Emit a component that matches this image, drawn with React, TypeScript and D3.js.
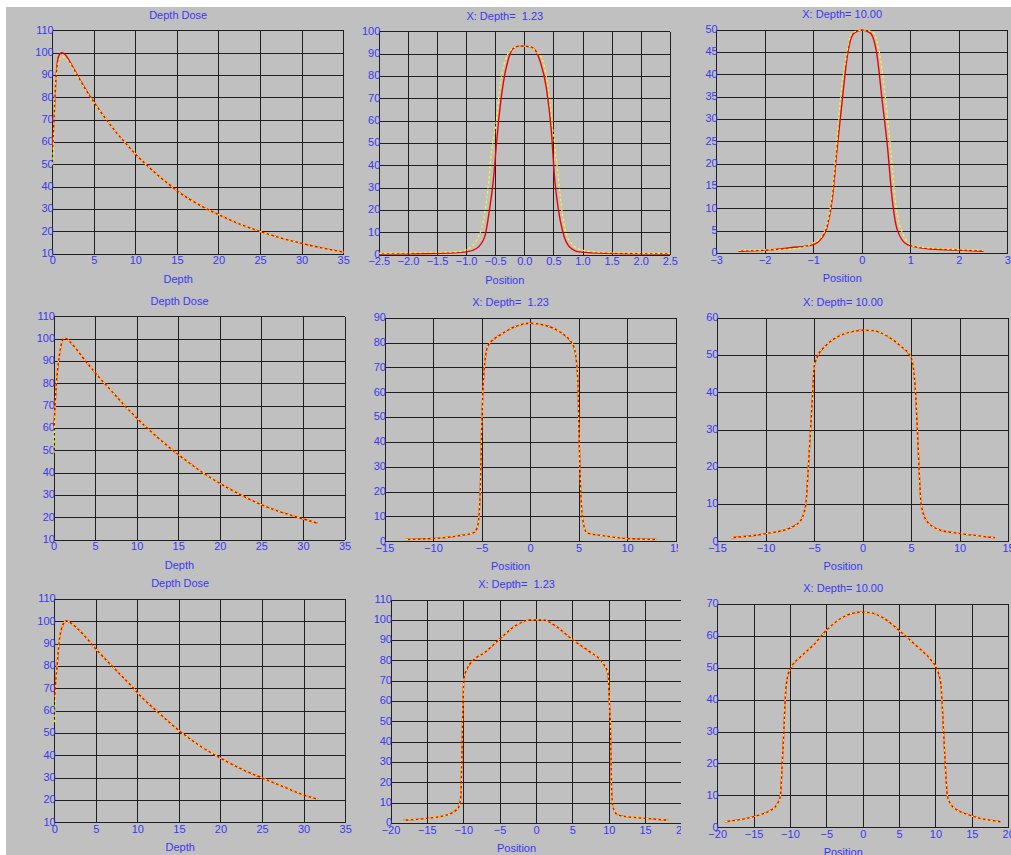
import React, { useEffect, useRef } from "react";
import * as d3 from "d3";

// Depth dose curves: depth (cm) vs dose (%)
const dd1RedX = [0, 0.15, 0.4, 0.7, 1.1, 1.5, 2.0, 2.7, 3.5, 4.5, 5, 6.3, 7.5, 8.5, 10, 11.3, 12.5, 14.1, 15, 17.5, 20, 22.5, 25, 27.5, 30, 32.5, 35];
const dd1RedY = [58, 70, 89, 98.5, 100.2, 99.3, 96.5, 91.9, 86.7, 80.6, 77.8, 71, 65.2, 60.8, 54.6, 49.9, 45.8, 40.9, 38.2, 32.3, 27.6, 23.5, 20.1, 17.2, 14.8, 12.7, 10.9];
const dd1YelX = [0, 0.1, 0.25, 0.5, 0.8, 1.1, 1.6, 2.0, 2.7, 3.5, 4.5, 5, 6.3, 7.5, 8.5, 10, 11.3, 12.5, 14.1, 15, 17.5, 20, 22.5, 25, 27.5, 30, 32.5, 35];
const dd1YelY = [50, 62, 80, 92, 97, 98.3, 97.4, 95.8, 91.4, 86.3, 80.3, 77.6, 71, 65.2, 60.8, 54.6, 49.9, 45.8, 40.9, 38.2, 32.3, 27.6, 23.5, 20.1, 17.2, 14.8, 12.7, 10.9];

const dd2RedX = [0, 0.15, 0.3, 0.7, 1.1, 1.3, 2.0, 2.7, 3.5, 4.5, 5.5, 6.5, 8.3, 10, 11.1, 12.5, 14.3, 15, 17.5, 20, 22.5, 25, 27.5, 30, 31.7];
const dd2RedY = [61, 72, 81, 94, 100, 100.4, 98.5, 95.5, 91.5, 87, 82.5, 78.5, 71, 64.5, 60.5, 55.8, 50.2, 48.2, 41.2, 35.3, 30.2, 25.8, 22.3, 19.5, 17.6];
const dd2YelX = [0, 0.1, 0.3, 0.7, 1.1, 1.3, 2.0, 2.7, 3.5, 4.5, 5.5, 6.5, 8.3, 10, 11.1, 12.5, 14.3, 15, 17.5, 20, 22.5, 25, 27.5, 30, 31.7];
const dd2YelY = [49, 66, 81, 94, 100, 100.4, 98.5, 95.5, 91.5, 87, 82.5, 78.5, 71, 64.5, 60.5, 55.8, 50.2, 48.2, 41.2, 35.3, 30.2, 25.8, 22.3, 19.5, 17.6];

const dd3RedX = [0, 0.1, 0.28, 0.6, 1.2, 1.4, 2.0, 2.6, 3.5, 5, 6.8, 9.4, 10, 12.2, 15.2, 17.4, 20, 22.6, 25, 27.4, 30, 31.6];
const dd3RedY = [66, 72, 80, 93, 100, 100.4, 99.2, 97.4, 94, 87.5, 80.5, 70.5, 68, 60.2, 50.5, 44.6, 38.8, 33.8, 30, 26.3, 22.4, 20.6];
const dd3YelX = [0, 0.1, 0.28, 0.6, 1.2, 1.4, 2.0, 2.6, 3.5, 5, 6.8, 9.4, 10, 12.2, 15.2, 17.4, 20, 22.6, 25, 27.4, 30, 31.6];
const dd3YelY = [55, 68, 80, 93, 100, 100.4, 99.2, 97.4, 94, 87.5, 80.5, 70.5, 68, 60.2, 50.5, 44.6, 38.8, 33.8, 30, 26.3, 22.4, 20.6];

// Profiles: position (cm) vs dose
const p1RedX = [-2.5, -2.0, -1.46, -1.0, -0.83, -0.69, -0.6, -0.54, -0.486, -0.43, -0.37, -0.29, -0.2, -0.086, 0.086, 0.2, 0.26, 0.37, 0.46, 0.51, 0.57, 0.66, 0.77, 0.94, 1.4, 2.0, 2.5];
const p1RedY = [0.5, 0.6, 0.8, 1.5, 3, 8.2, 21.6, 33.6, 50, 65, 77, 87, 92.5, 93.6, 93.3, 91, 87, 75, 54.5, 35, 21.6, 9.7, 3.7, 1.5, 0.8, 0.6, 0.5];
const p1YelX = [-2.5, -1.74, -1.17, -1.0, -0.83, -0.71, -0.63, -0.57, -0.5, -0.42, -0.31, -0.2, -0.086, 0.086, 0.2, 0.31, 0.4, 0.49, 0.57, 0.63, 0.71, 0.83, 1.0, 1.4, 2.5];
const p1YelY = [0.8, 1.2, 1.5, 2.5, 6.7, 15.7, 30.6, 47, 58, 77, 89, 92.5, 93.6, 93.3, 91, 87, 75, 54.5, 36.6, 21.6, 9.7, 4.5, 2.2, 1.2, 0.75];

const p2RedX = [-2.55, -2.03, -1.48, -1.0, -0.86, -0.72, -0.62, -0.52, -0.41, -0.31, -0.17, 0, 0.17, 0.31, 0.41, 0.52, 0.62, 0.72, 0.93, 1.41, 2.1, 2.5];
const p2RedY = [0.5, 0.7, 1.3, 2.0, 3.1, 6.1, 12, 23.2, 34.4, 44, 49.3, 50, 49.3, 44, 34.4, 24, 12, 5.4, 2, 1, 0.7, 0.5];
const p2YelX = [-2.55, -1.48, -1.0, -0.79, -0.65, -0.55, -0.45, -0.34, -0.21, 0, 0.21, 0.38, 0.48, 0.59, 0.69, 0.83, 1.07, 1.75, 2.5];
const p2YelY = [0.7, 1.0, 2.4, 4.6, 10.6, 21, 34.6, 43.3, 49.3, 50, 49.6, 43.3, 34.6, 23.2, 11.3, 4.6, 1.6, 1.0, 0.7];

const p3X = [-12.9, -10, -7.6, -5.9, -5.5, -5.3, -5.16, -5.05, -4.88, -4.7, -4.36, -3.16, -1.8, 0, 1.65, 3.0, 4.4, 4.74, 4.9, 5.0, 5.15, 5.36, 5.8, 7.84, 9.9, 13];
const p3Y = [0.9, 1.3, 2.3, 3.6, 5.6, 11, 23, 43, 63, 72.5, 79.2, 83.2, 86.3, 88, 87, 84.6, 79.2, 72.5, 63, 43, 23, 9.6, 3.6, 2.3, 1.3, 0.9];

const p4X = [-13.6, -10, -7.6, -6.5, -5.9, -5.64, -5.4, -5.2, -5.05, -4.78, -3.74, -2.35, -0.97, 0, 1.1, 2.5, 3.9, 4.9, 5.2, 5.43, 5.6, 5.78, 6.0, 6.6, 8.0, 10.1, 13.6];
const p4Y = [1.1, 2.2, 3.6, 5.4, 9.9, 19.7, 30.5, 39.5, 46.6, 49.3, 52.9, 55.4, 56.5, 56.8, 56.7, 55.2, 52.5, 49.8, 46.6, 39.5, 30.5, 19.7, 9.9, 5.4, 3.1, 2.2, 1.1];

const p5X = [-18.3, -15.1, -12.4, -10.8, -10.4, -10.3, -10.16, -9.98, -9.7, -8.7, -7.3, -5.0, -2.75, -0.9, 0.9, 2.75, 5.0, 7.3, 9.15, 9.84, 9.98, 10.2, 10.3, 10.5, 11.2, 13.3, 15.1, 18.1];
const p5Y = [1.6, 2.5, 4.1, 7.4, 13, 26, 51, 70.9, 75, 80.4, 83.7, 91, 97.6, 100.2, 100.2, 96.9, 90.3, 84.6, 78.8, 73.9, 62.4, 42.7, 19.7, 8.2, 4.1, 3, 2.5, 1.6];

const p6X = [-19, -14.6, -12.3, -11.4, -11.17, -10.9, -10.7, -10.4, -10.0, -8.6, -6.8, -5.0, -2.67, -0.37, 1.0, 2.85, 5.15, 7.45, 9.3, 10.2, 10.67, 10.9, 11.2, 11.6, 12.3, 14.8, 18.9];
const p6Y = [1.9, 3.8, 6.1, 9.7, 18, 30.6, 41, 47.3, 49.8, 53.6, 57.3, 62, 66.1, 67.5, 67.4, 65.6, 61.4, 56.7, 52.6, 49.4, 45.2, 36.9, 23.3, 9.7, 6.6, 3.8, 1.9];

// tick labels
const depthTicks = [0, 5, 10, 15, 20, 25, 30, 35];
const dose110Ticks = [10, 20, 30, 40, 50, 60, 70, 80, 90, 100, 110];
const pos25Ticks = [-2.5, -2, -1.5, -1, -0.5, 0, 0.5, 1, 1.5, 2, 2.5];
const dose100Ticks = [0, 10, 20, 30, 40, 50, 60, 70, 80, 90, 100];
const pos3Ticks = [-3, -2, -1, 0, 1, 2, 3];
const dose50Ticks = [0, 5, 10, 15, 20, 25, 30, 35, 40, 45, 50];
const pos15Ticks = [-15, -10, -5, 0, 5, 10, 15];
const dose90Ticks = [0, 10, 20, 30, 40, 50, 60, 70, 80, 90];
const dose60Ticks = [0, 10, 20, 30, 40, 50, 60];
const pos20Ticks = [-20, -15, -10, -5, 0, 5, 10, 15, 20];
const dose70Ticks = [0, 10, 20, 30, 40, 50, 60, 70];
const doseFullTicks = [0, 10, 20, 30, 40, 50, 60, 70, 80, 90, 100, 110];

const W = 291;
const H = 223.5;
const BLUE = "#3838f4";
const FONT = "'Liberation Sans', Arial, sans-serif";

const panels = [
  { title: "Depth Dose", xLabel: "Depth", xTicks: depthTicks, yTicks: dose110Ticks, fmt: "d", left: 52.7, top: 30.7, red: [dd1RedX, dd1RedY], yel: [dd1YelX, dd1YelY] },
  { title: "X: Depth=  1.23", xLabel: "Position", xTicks: pos25Ticks, yTicks: dose100Ticks, fmt: ".1f", left: 379.3, top: 31.7, red: [p1RedX, p1RedY], yel: [p1YelX, p1YelY], clip: 678 },
  { title: "X: Depth= 10.00", xLabel: "Position", xTicks: pos3Ticks, yTicks: dose50Ticks, fmt: "d", left: 716.7, top: 30, red: [p2RedX, p2RedY], yel: [p2YelX, p2YelY] },
  { title: "Depth Dose", xLabel: "Depth", xTicks: depthTicks, yTicks: dose110Ticks, fmt: "d", left: 54, top: 316.7, red: [dd2RedX, dd2RedY], yel: [dd2YelX, dd2YelY] },
  { title: "X: Depth=  1.23", xLabel: "Position", xTicks: pos15Ticks, yTicks: dose90Ticks, fmt: "d", left: 385, top: 318.3, red: [p3X, p3Y], yel: [p3X, p3Y], clip: 678 },
  { title: "X: Depth= 10.00", xLabel: "Position", xTicks: pos15Ticks, yTicks: dose60Ticks, fmt: "d", left: 717.5, top: 318.3, red: [p4X, p4Y], yel: [p4X, p4Y] },
  { title: "Depth Dose", xLabel: "Depth", xTicks: depthTicks, yTicks: dose110Ticks, fmt: "d", left: 54.7, top: 599.3, red: [dd3RedX, dd3RedY], yel: [dd3YelX, dd3YelY] },
  { title: "X: Depth=  1.23", xLabel: "Position", xTicks: pos20Ticks, yTicks: doseFullTicks, fmt: "d", left: 391, top: 600, red: [p5X, p5Y], yel: [p5X, p5Y], clip: 681 },
  { title: "X: Depth= 10.00", xLabel: "Position", xTicks: pos20Ticks, yTicks: dose70Ticks, fmt: "d", left: 717.7, top: 604.3, red: [p6X, p6Y], yel: [p6X, p6Y] },
];

const Panel = ({ cfg, idx }: { cfg: any; idx: number }) => {
  const ref = useRef<SVGGElement>(null);

  useEffect(() => {
    const g = d3.select(ref.current);
    g.selectAll("*").remove();

    const { left, top } = cfg;
    const x = d3.scaleLinear().domain(d3.extent(cfg.xTicks) as [number, number]).range([left, left + W]);
    const y = d3.scaleLinear().domain(d3.extent(cfg.yTicks) as [number, number]).range([top + H, top]);
    const fmt = d3.format(cfg.fmt);

    if (cfg.clip) {
      const id = "clip" + idx;
      g.append("clipPath").attr("id", id).append("rect").attr("x", 0).attr("y", 0).attr("width", cfg.clip).attr("height", 855);
      g.attr("clip-path", `url(#${id})`);
    }

    // grid
    g.selectAll(".vg").data(cfg.xTicks).enter().append("line")
      .attr("x1", (d: number) => x(d)).attr("x2", (d: number) => x(d))
      .attr("y1", top).attr("y2", top + H)
      .attr("stroke", "#1e1e1e").attr("stroke-width", 1)
      .attr("shape-rendering", "crispEdges");
    g.selectAll(".hg").data(cfg.yTicks).enter().append("line")
      .attr("x1", left).attr("x2", left + W)
      .attr("y1", (d: number) => y(d)).attr("y2", (d: number) => y(d))
      .attr("stroke", "#1e1e1e").attr("stroke-width", 1)
      .attr("shape-rendering", "crispEdges");

    // tick labels
    g.selectAll(".yl").data(cfg.yTicks).enter().append("text")
      .attr("x", left + 1).attr("y", (d: number) => y(d) - 1)
      .attr("dy", "0.35em")
      .attr("text-anchor", "end")
      .style("font-size", "11px").style("font-family", FONT).attr("fill", BLUE)
      .text((d: number) => d);
    g.selectAll(".xl").data(cfg.xTicks).enter().append("text")
      .attr("x", (d: number) => x(d)).attr("y", top + H + 10)
      .attr("text-anchor", "middle")
      .style("font-size", "11px").style("font-family", FONT).attr("fill", BLUE)
      .text((d: number) => fmt(d));

    // titles
    g.append("text")
      .attr("x", left + W / 2 - 20).attr("y", top - 12)
      .attr("text-anchor", "middle")
      .style("font-size", "11px").style("font-family", FONT).style("white-space", "pre").attr("fill", BLUE)
      .text(cfg.title);
    g.append("text")
      .attr("x", left + W / 2 - 20).attr("y", top + H + 28.5)
      .attr("text-anchor", "middle")
      .style("font-size", "11px").style("font-family", FONT).attr("fill", BLUE)
      .text(cfg.xLabel);

    const line = d3.line<[number, number]>()
      .x((d) => x(d[0]))
      .y((d) => y(d[1]))
      .curve(d3.curveMonotoneX);

    // measured (red) and calculated (yellow dashed)
    g.append("path")
      .datum(d3.zip(cfg.red[0], cfg.red[1]))
      .attr("fill", "none").attr("stroke", "#f20000").attr("stroke-width", 1.4)
      .attr("d", line as any);
    g.append("path")
      .datum(d3.zip(cfg.yel[0], cfg.yel[1]))
      .attr("fill", "none").attr("stroke", "#ffff00").attr("stroke-width", 1.2)
      .attr("stroke-dasharray", "2.5,2.5")
      .attr("d", line as any);
  }, [cfg, idx]);

  return <g ref={ref} />;
};

export default function App() {
  return (
    <svg width={1011} height={855} style={{ position: "absolute", left: 0, top: 0, background: "#fff" }}>
      <rect x={6} y={7} width={1005} height={848} fill="#c0c0c0" />
      {panels.map((p, i) => (
        <Panel key={i} cfg={p} idx={i} />
      ))}
    </svg>
  );
}
